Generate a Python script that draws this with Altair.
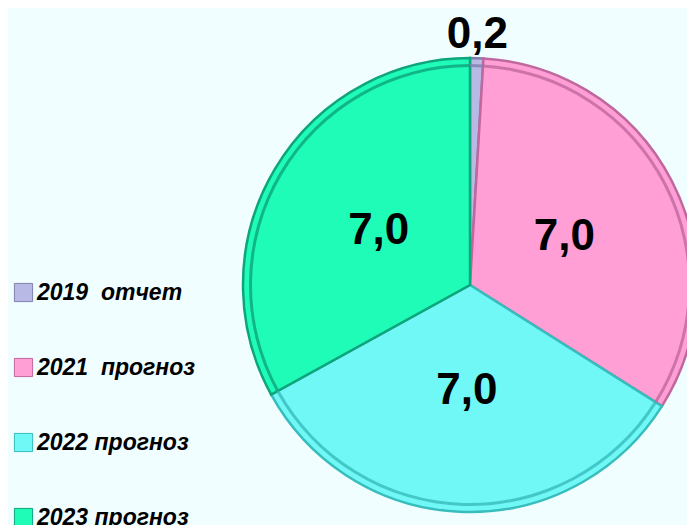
import altair as alt
import pandas as pd

categories = ["2019\u00a0 отчет", "2021\u00a0 прогноз", "2022 прогноз", "2023 прогноз"]
values = [0.2, 7.0, 7.0, 7.0]
labels = ["0,2", "7,0", "7,0", "7,0"]
colors = ["#b9b9e6", "#ff9fd6", "#6ff8f6", "#1efcb8"]
edge_colors = ["#8080b0", "#c0689e", "#38bcbc", "#0ea47c"]

df = pd.DataFrame({
    "category": categories,
    "value": values,
    "label": labels,
    "idx": list(range(len(categories))),
})

CX, CY, R = 462, 277, 227

base = alt.Chart(df).encode(
    theta=alt.Theta("value:Q", stack=True),
    order=alt.Order("idx:Q"),
    x=alt.value(CX),
    y=alt.value(CY),
)

pie = base.mark_arc(outerRadius=R, strokeWidth=2.5).encode(
    color=alt.Color(
        "category:N",
        scale=alt.Scale(domain=categories, range=colors),
        legend=alt.Legend(
            title=None,
            orient="none",
            legendX=4,
            legendY=273,
            symbolType="square",
            symbolSize=330,
            symbolStrokeWidth=1,
            symbolStrokeColor="#777777",
            labelFont="Liberation Sans",
            labelFontStyle="italic",
            labelFontWeight="bold",
            labelFontSize=23,
            labelColor="black",
            labelLimit=400,
            labelOffset=2,
            rowPadding=51,
        ),
    ),
    stroke=alt.Stroke(
        "category:N",
        scale=alt.Scale(domain=categories, range=edge_colors),
        legend=None,
    ),
)

rim = base.mark_arc(innerRadius=R - 9, outerRadius=R - 6, opacity=0.8).encode(
    fill=alt.Fill(
        "category:N",
        scale=alt.Scale(domain=categories, range=edge_colors),
        legend=None,
    ),
)

text_style = dict(
    font="Liberation Sans",
    fontWeight="bold",
    fontSize=44,
    color="black",
    baseline="middle",
    align="center",
)

text_inner = base.mark_text(radius=106, **text_style).encode(
    text=alt.condition("datum.value > 1", alt.Text("label:N"), alt.value("")),
)
text_outer = base.mark_text(radius=250, **text_style).encode(
    text=alt.condition("datum.value <= 1", alt.Text("label:N"), alt.value("")),
)

chart = (
    alt.layer(pie, rim, text_inner, text_outer)
    .properties(
        width=679,
        height=517,
        background="#f0feff",
        padding=0,
        autosize=alt.AutoSizeParams(type="none"),
    )
    .configure_view(stroke=None)
)

chart.save("out.html", embed_options={"renderer": "svg", "actions": False})
